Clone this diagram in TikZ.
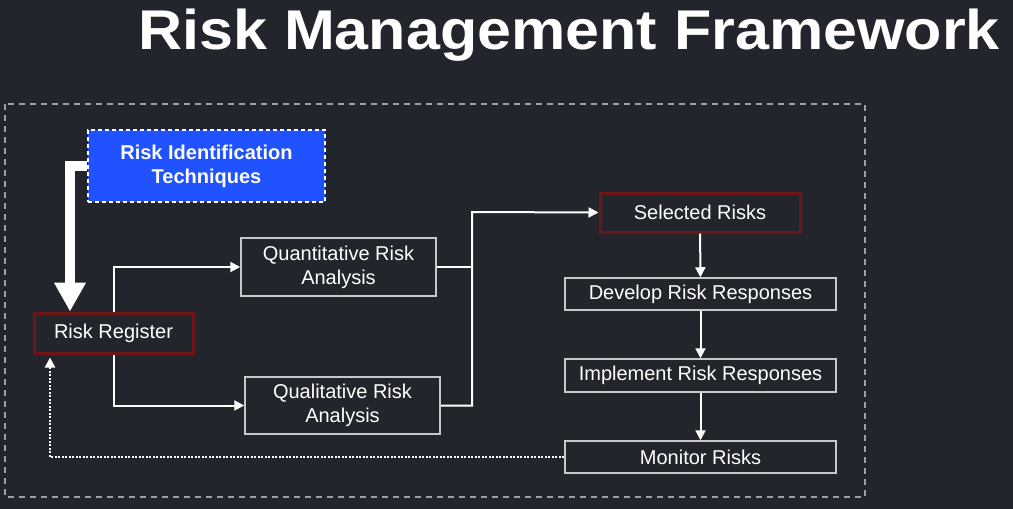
\documentclass[tikz,border=0pt]{standalone}
\usepackage{fontspec}
\setmainfont{Liberation Sans}
\usepackage{tikz}
\usetikzlibrary{arrows.meta}
\definecolor{bgdark}{RGB}{34,38,44}
\definecolor{idblue}{RGB}{32,82,255}
\definecolor{regred}{RGB}{108,22,22}
\definecolor{boxgray}{RGB}{200,200,200}

\begin{document}
\begin{tikzpicture}[x=1pt,y=-1pt,
  >={Triangle[width=10pt,length=10pt]},
  box/.style={draw=boxgray, line width=1.5pt, text=white, align=center, inner sep=0pt,
    font=\fontsize{20}{24}\selectfont},
  redbox/.style={box, draw=regred, line width=3pt},
  flow/.style={white, line width=2pt}]
  \useasboundingbox (0,0) rectangle (1013,509);
  \fill[bgdark] (0,0) rectangle (1013,509);
  % title and frame
  \node[anchor=base west, inner sep=0pt, xscale=1.09, text=white, font=\fontsize{56}{64}\selectfont\bfseries]
    (title) at (138,49) {Risk Management Framework};
  \draw[gray!75, line width=1.2pt, dash pattern=on 6pt off 5pt] (5,104) rectangle (865,497);
  % define the coordinates
  \coordinate (bend) at (70,166);
  \coordinate (merge) at (472,212);
  \coordinate (back) at (50,457);
  % define the nodes
  \node[box, fill=idblue, draw=white, line width=2pt, dash pattern=on 4pt off 3pt,
    font=\fontsize{20}{24}\selectfont\bfseries, minimum width=237pt, minimum height=72pt]
    (ident) at (206.5,166) {Risk Identification\\Techniques};
  \node[redbox, minimum width=159pt, minimum height=40pt] (reg) at (113.5,333) {Risk Register};
  \node[box, minimum width=195pt, minimum height=58pt] (quant) at (338.5,267) {Quantitative Risk\\Analysis};
  \node[box, minimum width=195pt, minimum height=57pt] (qual) at (342.5,405.5) {Qualitative Risk\\Analysis};
  \node[redbox, minimum width=200pt, minimum height=39pt] (sel) at (700,212.5) {Selected Risks};
  \node[box, minimum width=271pt, minimum height=32pt] (dev) at (700.5,294) {Develop Risk Responses};
  \node[box, minimum width=271pt, minimum height=33pt] (impl) at (700.5,375.5) {Implement Risk Responses};
  \node[box, minimum width=271pt, minimum height=32pt] (mon) at (700.5,457) {Monitor Risks};
  % draw the connectors
  \draw[white, line width=10pt, -{Triangle[width=30pt,length=29pt]}]
    (ident.west) -- (bend) -- (bend |- reg.north);
  \draw[flow, ->] (reg.north) |- (quant.west);
  \draw[flow, ->] (reg.south) |- (qual.west);
  \draw[flow] (quant.east) -- (quant.east -| merge);
  \draw[flow, ->] (qual.east) -| (merge) -- (sel.west);
  \foreach \a/\b in {sel/dev, dev/impl, impl/mon}
    \draw[flow, ->] (\a) -- (\b);
  \draw[flow, line width=2.2pt, dash pattern=on 2pt off 1.5pt, shorten >=3pt, ->]
    (mon.west) -- (back) -- (back |- reg.south);
\end{tikzpicture}
\end{document}
